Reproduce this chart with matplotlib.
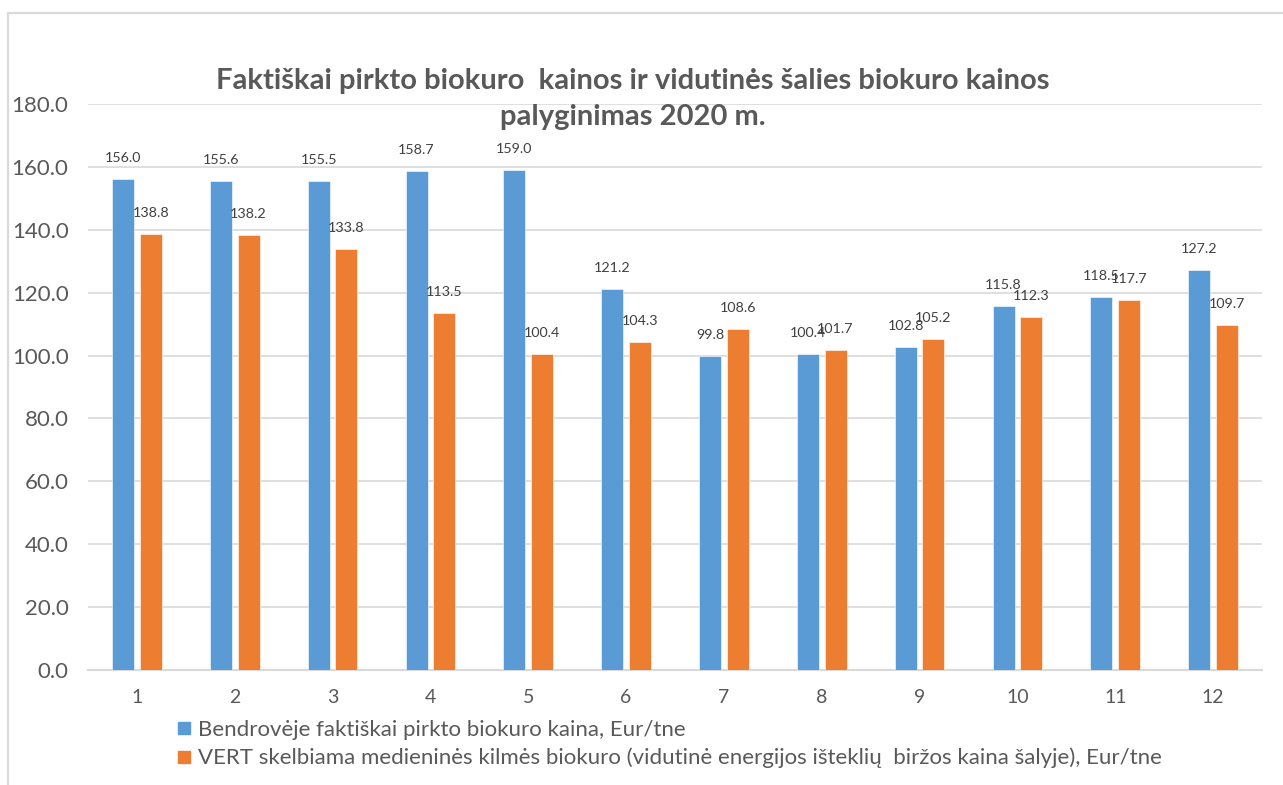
import numpy as np
import matplotlib.pyplot as plt
from matplotlib.patches import Rectangle
from matplotlib.lines import Line2D

plt.rcParams['font.family'] = ['Lato', 'DejaVu Sans']

# duomenys
months = ['1', '2', '3', '4', '5', '6', '7', '8', '9', '10', '11', '12']
actual = [156.0, 155.6, 155.5, 158.7, 159.0, 121.2, 99.8, 100.4, 102.8, 115.8, 118.5, 127.2]
vert = [138.8, 138.2, 133.8, 113.5, 100.4, 104.3, 108.6, 101.7, 105.2, 112.3, 117.7, 109.7]
labels = ['Bendrovėje faktiškai pirkto biokuro kaina, Eur/tne',
          'VERT skelbiama medieninės kilmės biokuro (vidutinė energijos išteklių  biržos kaina šalyje), Eur/tne']
title = 'Faktiškai pirkto biokuro  kainos ir vidutinės šalies biokuro kainos\npalyginimas 2020 m.'

blue = '#5B9BD5'
orange = '#ED7D31'
grid = '#D9D9D9'
txt = '#595959'

fig = plt.figure(figsize=(12.83, 7.85), dpi=100)
fig.patch.set_facecolor('white')

# rėmelis
fig.add_artist(Rectangle((8 / 1283, -0.05), 1.1, 1 - 13 / 785 + 0.05,
                         transform=fig.transFigure, fill=False,
                         edgecolor=grid, linewidth=1.6))

ax = fig.add_axes([88 / 1283, 115 / 785, 1174 / 1283, 566 / 785])
x = np.arange(len(months))
w = 0.225
off = 0.141
b1 = ax.bar(x - off, actual, w, color=blue, edgecolor='white', linewidth=0.4, zorder=3)
b2 = ax.bar(x + off, vert, w, color=orange, edgecolor='white', linewidth=0.4, zorder=3)

for bars, vals in ((b1, actual), (b2, vert)):
    for r, v in zip(bars, vals):
        ax.annotate(f'{v:.1f}', (r.get_x() + r.get_width() / 2, v),
                    xytext=(0, 17), textcoords='offset pixels',
                    ha='center', va='baseline', fontsize=10.3, color='#404040')

ax.set_xlim(-0.5, len(months) - 0.5)
ax.set_ylim(0, 180)
ax.set_yticks(np.arange(0, 181, 20))
ax.set_yticklabels([f'{t:.1f}' for t in np.arange(0, 181, 20)], fontsize=16, color=txt)
ax.set_xticks(x)
ax.set_xticklabels(months, fontsize=14, color=txt)
ax.tick_params(axis='y', length=0, pad=14)
ax.tick_params(axis='x', length=0, pad=14)
ax.yaxis.grid(True, color=grid, linewidth=1.2, zorder=0)
ax.set_axisbelow(True)
for s in ['top', 'right', 'left']:
    ax.spines[s].set_visible(False)
ax.spines['bottom'].set_color(grid)
ax.spines['bottom'].set_linewidth(1.5)

fig.text(633 / 1283, 1 - 99 / 785, title, ha='center', va='center',
         fontsize=21, fontweight='bold', color=txt, linespacing=1.5)

handles = [Line2D([], [], marker='s', linestyle='none', markersize=9,
                  markerfacecolor=c, markeredgecolor=c) for c in (blue, orange)]
fig.legend(handles, labels, loc='upper left', bbox_to_anchor=(176 / 1283, 1 - 720 / 785),
           frameon=False, fontsize=16, labelcolor=txt, handlelength=0.7,
           handletextpad=0.3, labelspacing=0.35, borderpad=0, borderaxespad=0)

fig.savefig('out.png', dpi=100, facecolor='white')
